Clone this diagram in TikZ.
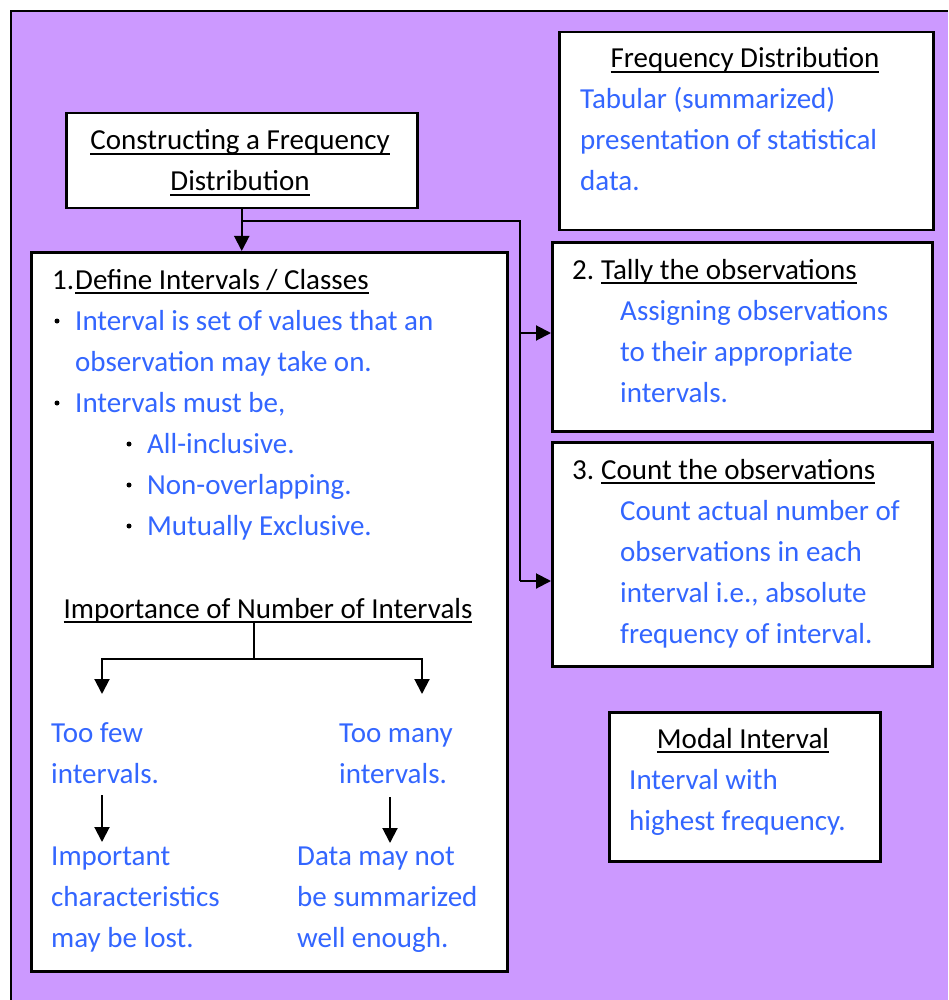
\documentclass[tikz,border=0pt]{standalone}
\usepackage{fontspec}
\setmainfont{Carlito}
\usetikzlibrary{arrows.meta}
\definecolor{lav}{HTML}{CC99FF}
\definecolor{blu}{HTML}{3366FF}
% underline drawn as a rule just below the baseline
\newcommand{\undl}[1]{\setbox0\hbox{#1}\rlap{\rule[-5pt]{\wd0}{2pt}}\copy0}
\begin{document}
\begin{tikzpicture}[x=1pt,y=-1pt,
  panel/.style={draw=black, line width=2.5pt, fill=white, inner sep=0pt, anchor=north west},
  txt/.style={inner sep=0pt, anchor=base west, font=\fontsize{29}{41}\selectfont},
  ctxt/.style={txt, anchor=base},
  btxt/.style={txt, text=blu},
  dot/.style={circle, fill=black, inner sep=0pt, minimum size=5pt},
  link/.style={line width=2pt},
  arr/.style={link, -{Triangle[length=15pt,width=15pt]}}]

\useasboundingbox (0,0) rectangle (948,1000);
\fill[lav] (11,11) rectangle (948,1000);
\draw[line width=2pt] (11,1000) -- (11,11) -- (948,11);

% panels
\node[panel, minimum width=351pt, minimum height=95pt]  (cons)  at (65,112)  {};
\node[panel, minimum width=374pt, minimum height=198pt] (freq)  at (558,31)  {};
\node[panel, minimum width=476pt, minimum height=719pt] (def)   at (30,251)  {};
\node[panel, minimum width=380pt, minimum height=189pt] (tally) at (551,241) {};
\node[panel, minimum width=380pt, minimum height=224pt] (count) at (551,441) {};
\node[panel, minimum width=271pt, minimum height=149pt] (modal) at (608,711) {};

% constructing
\node[ctxt] (cons1) at (240,150) {\undl{Constructing a Frequency}};
\node[ctxt] (cons2) at (240,191) {\undl{Distribution}};

% frequency distribution
\node[ctxt] (freqT) at (745,68) {\undl{Frequency Distribution}};
\node[btxt] (freq1) at (580,109) {Tabular (summarized)};
\node[btxt] (freq2) at (580,150) {presentation of statistical};
\node[btxt] (freq3) at (580,191) {data.};

% step 1
\node[txt] (n1)   at (52,289) {1.};
\node[txt] (defT) at (75,289) {\undl{Define Intervals / Classes}};
\node[dot] (b1) at (57,321) {};
\node[btxt] (d1) at (75,330) {Interval is set of values that an};
\node[btxt] (d2) at (75,371) {observation may take on.};
\node[dot] (b2) at (57,403) {};
\node[btxt] (d3) at (75,412) {Intervals must be,};
\node[dot] (b3) at (129,444) {};
\node[btxt] (d4) at (147,453) {All-inclusive.};
\node[dot] (b4) at (129,485) {};
\node[btxt] (d5) at (147,494) {Non-overlapping.};
\node[dot] (b5) at (129,526) {};
\node[btxt] (d6) at (147,535) {Mutually Exclusive.};

\node[ctxt] (imp) at (268,618) {\undl{Importance of Number of Intervals}};
\node[btxt] (few1) at (51,742) {Too few};
\node[btxt] (few2) at (51,783) {intervals.};
\node[btxt] (fewA) at (51,865) {Important};
\node[btxt] (fewB) at (51,906) {characteristics};
\node[btxt] (fewC) at (51,947) {may be lost.};
\node[btxt] (many1) at (339,742) {Too many};
\node[btxt] (many2) at (339,783) {intervals.};
\node[btxt] (manyA) at (297,865) {Data may not};
\node[btxt] (manyB) at (297,906) {be summarized};
\node[btxt] (manyC) at (297,947) {well enough.};

% step 2
\node[txt] (n2)     at (572,279) {2.};
\node[txt] (tallyT) at (601,279) {\undl{Tally the observations}};
\node[btxt] (t1) at (620,320) {Assigning observations};
\node[btxt] (t2) at (620,361) {to their appropriate};
\node[btxt] (t3) at (620,402) {intervals.};

% step 3
\node[txt] (n3)     at (572,479) {3.};
\node[txt] (countT) at (601,479) {\undl{Count the observations}};
\node[btxt] (c1) at (620,520) {Count actual number of};
\node[btxt] (c2) at (620,561) {observations in each};
\node[btxt] (c3) at (620,602) {interval i.e., absolute};
\node[btxt] (c4) at (620,643) {frequency of interval.};

% modal interval
\node[ctxt] (modalT) at (743,748) {\undl{Modal Interval}};
\node[btxt] (m1) at (629,789) {Interval with};
\node[btxt] (m2) at (629,830) {highest frequency.};

% main connectors
\coordinate (jn)  at (cons.south |- 0,221);
\coordinate (bus) at (520,221);
\coordinate (into3) at (551,581);
\draw[arr] (cons.south) -- (cons.south |- def.north);
\draw[link] (jn) -- (bus) -- (bus |- into3);
\draw[arr] (bus |- 0,333) -- (tally.west |- 0,333);
\draw[arr] (bus |- into3) -- (into3);

% interval tree
\coordinate (t0) at (254,623);
\coordinate (tm) at (254,659);
\coordinate (fewtop)  at (102,694);
\coordinate (manytop) at (422,694);
\draw[link] (t0) -- (tm);
\draw[arr] (tm) -| (fewtop);
\draw[arr] (tm) -| (manytop);
\coordinate (fa) at (102,795);
\coordinate (fb) at (102,842);
\coordinate (ma) at (390,797);
\coordinate (mb) at (390,843);
\draw[arr] (fa) -- (fb);
\draw[arr] (ma) -- (mb);
\end{tikzpicture}
\end{document}
